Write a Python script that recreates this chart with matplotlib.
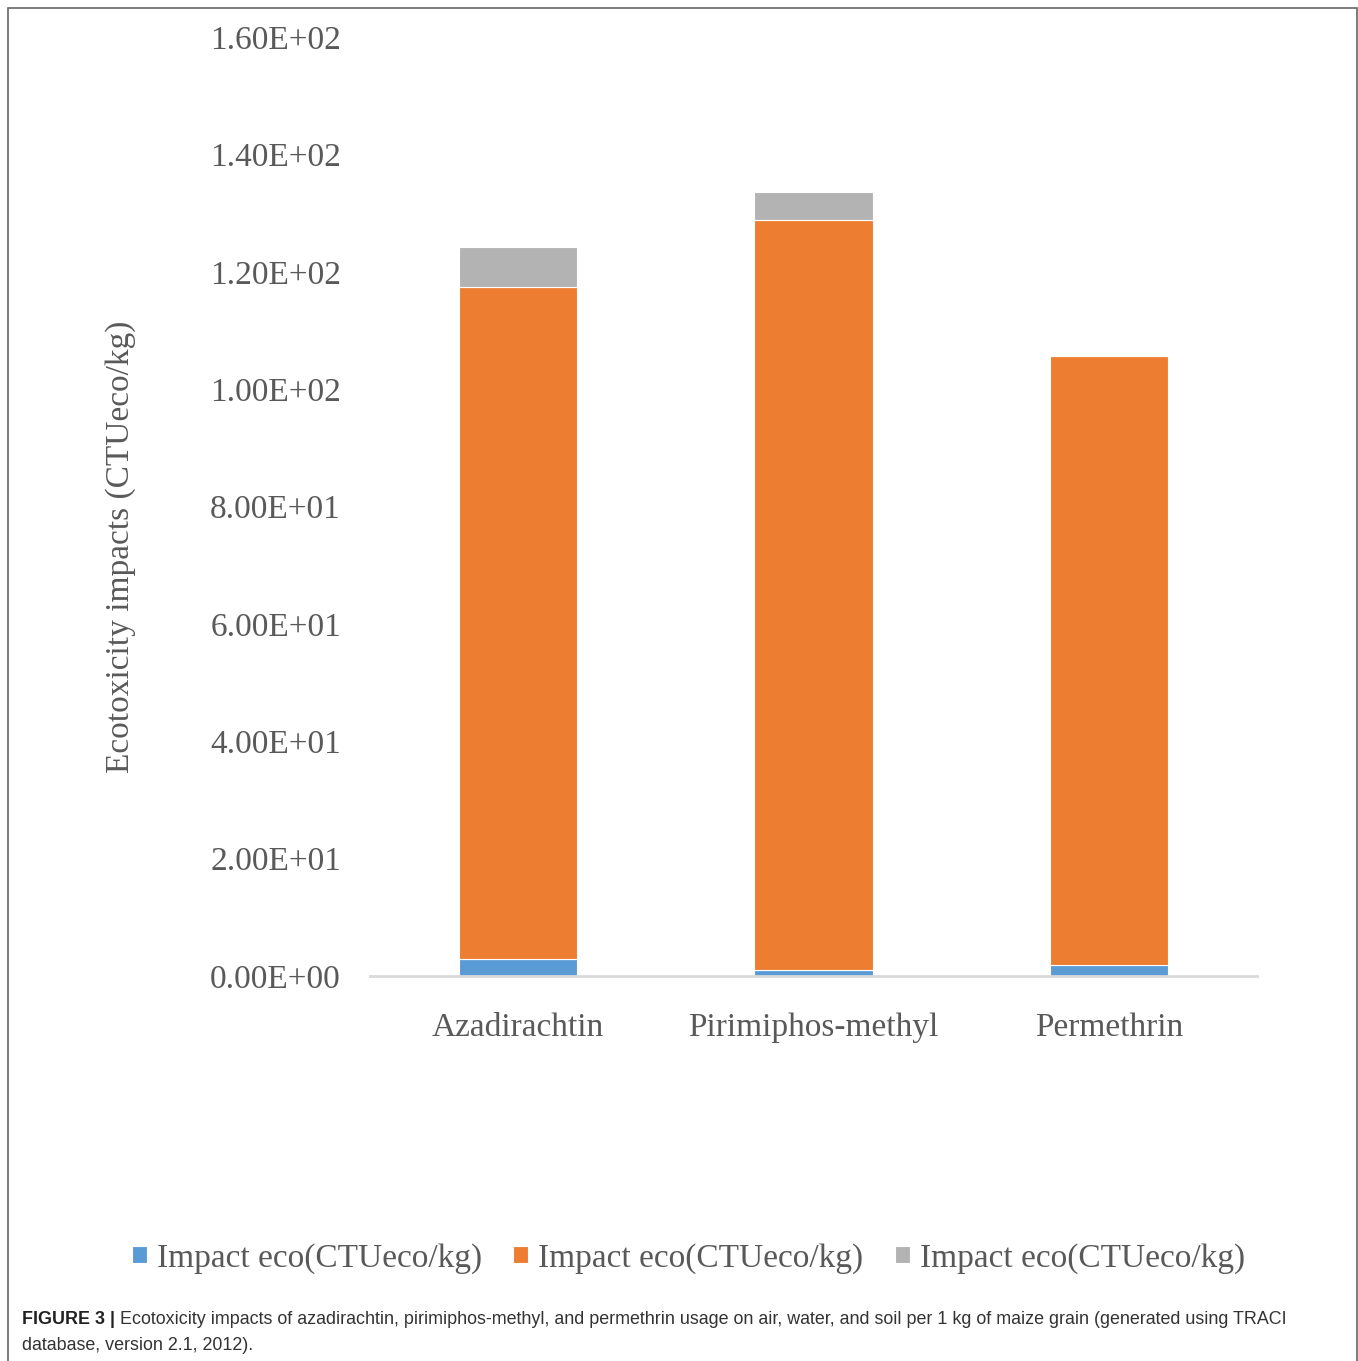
import matplotlib.pyplot as plt
import numpy as np
from matplotlib.patches import Rectangle

# pesticide ecotoxicity per kg maize grain (CTUeco/kg)
pesticides = ["Azadirachtin", "Pirimiphos-methyl", "Permethrin"]
impact_air = [2.9, 1.0, 1.9]
impact_water = [114.5, 127.8, 103.7]
impact_soil = [6.8, 4.8, 0.2]
series_labels = ["Impact eco(CTUeco/kg)", "Impact eco(CTUeco/kg)", "Impact eco(CTUeco/kg)"]
yticks = [0, 20, 40, 60, 80, 100, 120, 140, 160]
caption_bold = "FIGURE 3 |"
caption_text = (" Ecotoxicity impacts of azadirachtin, pirimiphos-methyl, and permethrin usage on air, water, and soil per 1 kg of maize grain (generated using TRACI")
caption_line2 = "database, version 2.1, 2012)."

colors = ["#5B9BD5", "#ED7D31", "#B3B3B3"]
serif = "Liberation Serif"
grey = "#595959"
fs = 24

fig = plt.figure(figsize=(13.58, 13.61), dpi=100)
ax = fig.add_axes([0.2725, 0.2829, 0.6531, 0.6899])

x = np.arange(len(pesticides))
bottom = np.zeros(len(pesticides))
handles = []
for vals, col, lab in zip([impact_air, impact_water, impact_soil], colors, series_labels):
    b = ax.bar(x, vals, 0.4, bottom=bottom, color=col, edgecolor="white", linewidth=0.8, label=lab)
    handles.append(b)
    bottom += np.array(vals)

ax.set_xlim(-0.5, 2.5)
ax.set_ylim(0, 160)
ax.set_yticks(yticks)
ax.set_yticklabels(["%.2fE%+03d" % (v / 10 ** (len(str(v)) - 1) if v else 0, (len(str(v)) - 1) if v else 0) for v in yticks],
                   fontsize=fs, color=grey, family=serif)
ax.set_xticks(x)
ax.set_xticklabels(pesticides, fontsize=fs, color=grey, family=serif)
ax.tick_params(axis="y", length=0, pad=21)
ax.tick_params(axis="x", length=0, pad=26)
for s in ["top", "right", "left"]:
    ax.spines[s].set_visible(False)
ax.spines["bottom"].set_color("#d9d9d9")
ax.spines["bottom"].set_linewidth(2)

fig.text(0.089, 0.598, "Ecotoxicity impacts (CTUeco/kg)", rotation=90, ha="center", va="center",
         fontsize=fs, color=grey, family=serif)

leg = fig.legend(handles=handles, loc="center", bbox_to_anchor=(0.507, 0.0755), ncol=3, frameon=False,
                 prop={"family": serif, "size": fs}, handlelength=0.45, handleheight=0.45,
                 handletextpad=0.3, columnspacing=0.95)
for t in leg.get_texts():
    t.set_color(grey)

# caption under the chart
cap_fs = 12.9
t1 = fig.text(0.0162, 0.0305, caption_bold, fontsize=cap_fs, fontweight="bold", family="Liberation Sans",
              color="#222222", va="center")
fig.canvas.draw()
bb = t1.get_window_extent()
fig.text(bb.x1 / fig.bbox.width, 0.0305, caption_text, fontsize=cap_fs, family="Liberation Sans",
         color="#333333", va="center")
fig.text(0.0162, 0.0115, caption_line2, fontsize=cap_fs, family="Liberation Sans", color="#333333", va="center")

# outer frame
fig.patches.append(Rectangle((8 / 1358, -0.01), 1349 / 1358, 1 - 8 / 1361 + 0.01, transform=fig.transFigure,
                             fill=False, edgecolor="#666666", linewidth=1.2))

fig.savefig("out.png", dpi=100)
